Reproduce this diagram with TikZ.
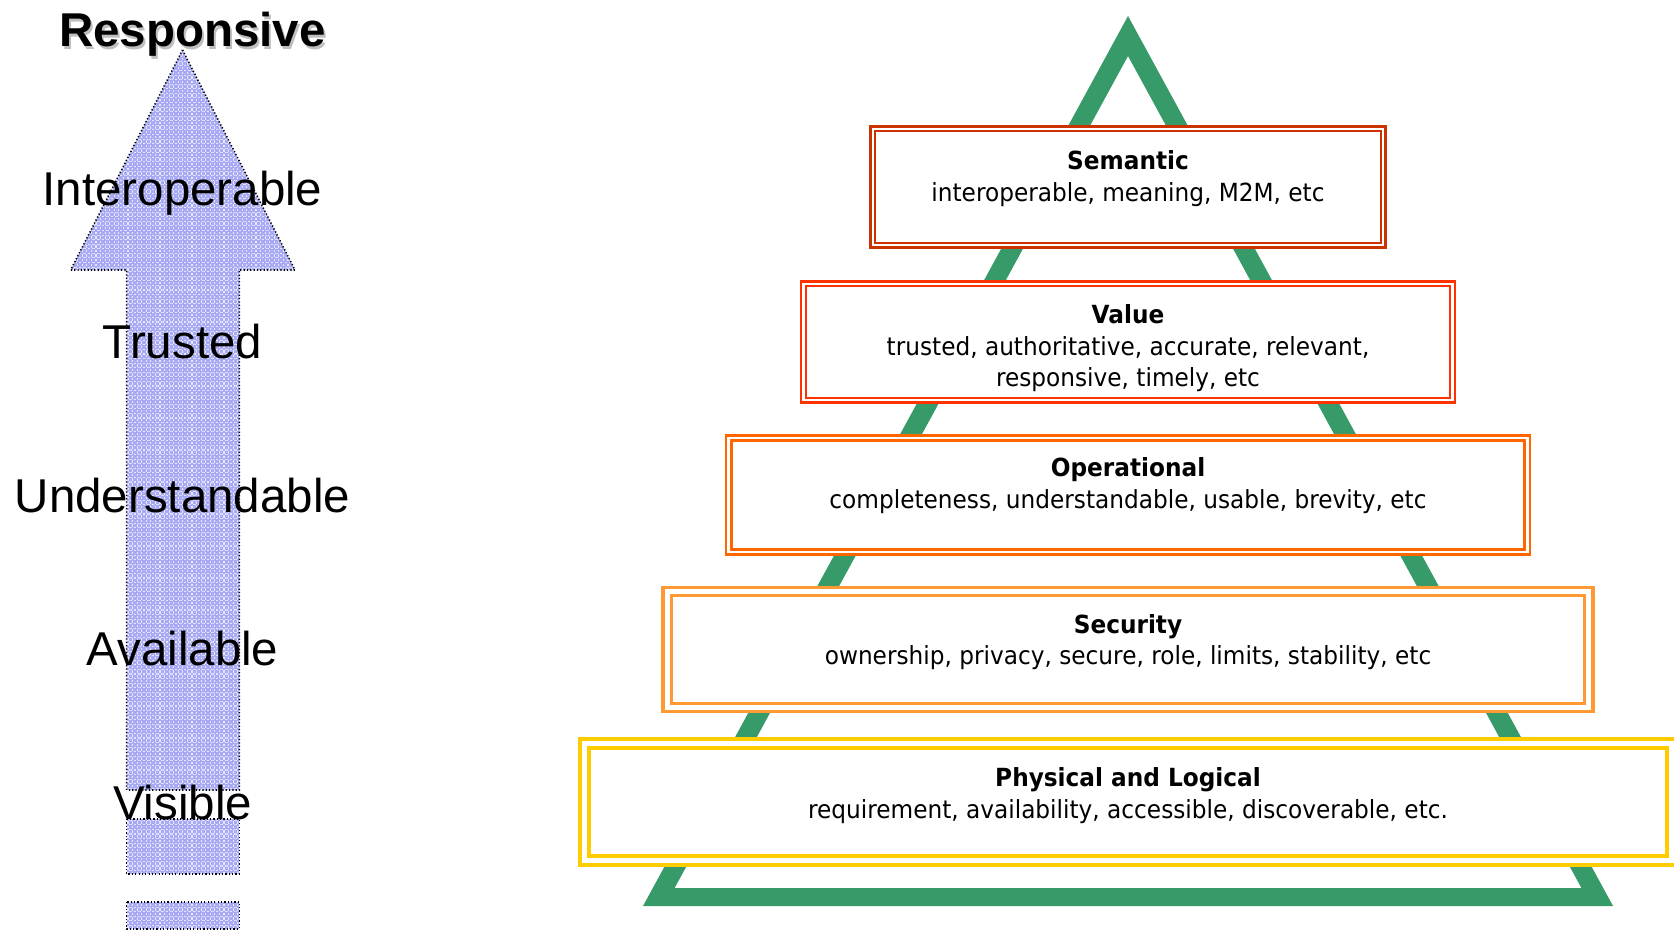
\documentclass[tikz,border=0pt]{standalone}
\usepackage{fontspec}
\setmainfont{Liberation Sans}
\newfontfamily\layerfont[FakeStretch=0.93]{DejaVu Sans}
\usepackage{tikz}
\usetikzlibrary{patterns.meta}

\definecolor{pyrgreen}{RGB}{54,155,104}
\definecolor{semcol}{RGB}{204,51,0}
\definecolor{valcol}{RGB}{255,51,0}
\definecolor{opcol}{RGB}{255,102,0}
\definecolor{seccol}{RGB}{255,153,51}
\definecolor{physcol}{RGB}{255,204,0}
\definecolor{arrowblue}{RGB}{168,170,244}

\tikzset{
    layer/.style={draw=#1, double=white, fill=white, rectangle, inner sep=0pt},
    layer text/.style={anchor=north, align=center, inner sep=0pt, font=\layerfont\fontsize{7.1}{9}\selectfont},
    quality/.style={anchor=base, inner sep=0pt, font=\fontsize{13.5}{16}\selectfont},
    arrowpart/.style={preaction={fill=arrowblue}, pattern={Hatch[angle=0, distance=1.3pt, line width=0.3pt]}, pattern color=white!70!arrowblue,
        draw=black, line width=0.45pt, dash pattern=on 0.35pt off 0.6pt},
}

\begin{document}
\begin{tikzpicture}[x=0.01cm, y=-0.01cm]
    \useasboundingbox (0,0) rectangle (1674,930);

    % broken arrow on the left
    \draw[arrowpart] (182.5,50) -- (295,270) -- (239.3,270) -- (239.3,790) -- (126.7,790) -- (126.7,270) -- (70.7,270) -- cycle;
    \draw[arrowpart] (126.7,819) rectangle (239.3,874);
    \draw[arrowpart] (126.7,902) rectangle (239.3,929);

    \node[quality, font=\fontsize{13.5}{16}\selectfont\bfseries, text=black!25] at (194.5,49) {Responsive};
    \node[quality, font=\fontsize{13.5}{16}\selectfont\bfseries] (responsive) at (192.5,46.7) {Responsive};
    \node[quality] (interoperable) at (182.5,205) {Interoperable};
    \node[quality] (trusted) at (182.5,358.5) {Trusted};
    \node[quality] (understandable) at (182.5,512) {Understandable};
    \node[quality] (available) at (182.5,665.5) {Available};
    \node[quality] (visible) at (182.5,819) {Visible};

    % pyramid frame
    \fill[pyrgreen, even odd rule] (1128,16) -- (643,906) -- (1613,906) -- cycle
        (1128,56) -- (674.6,888) -- (1581.4,888) -- cycle;

    \node[layer=semcol, line width=0.63pt, double distance=0.74pt, minimum width=5.10cm, minimum height=1.16cm] (semantic) at (1128,187) {};
    \node[layer=valcol, line width=0.63pt, double distance=0.74pt, minimum width=6.49cm, minimum height=1.16cm] (value) at (1128,342) {};
    \node[layer=opcol, line width=0.71pt, double distance=0.77pt, minimum width=7.98cm, minimum height=1.14cm] (operational) at (1128,495) {};
    \node[layer=seccol, line width=0.94pt, double distance=1.42pt, minimum width=9.21cm, minimum height=1.16cm] (security) at (1128,649.5) {};
    \node[layer=physcol, line width=1.14pt, double distance=1.42pt, minimum width=10.87cm, minimum height=1.16cm] (physical) at (1128,802) {};

    \node[layer text] (semantic text) at (1128,150) {\textbf{Semantic}\\interoperable, meaning, M2M, etc};
    \node[layer text] (value text) at (1128,304) {\textbf{Value}\\trusted, authoritative, accurate, relevant,\\responsive, timely, etc};
    \node[layer text] (operational text) at (1128,457) {\textbf{Operational}\\completeness, understandable, usable, brevity, etc};
    \node[layer text] (security text) at (1128,613.5) {\textbf{Security}\\ownership, privacy, secure, role, limits, stability, etc};
    \node[layer text] (physical text) at (1128,767) {\textbf{Physical and Logical}\\requirement, availability, accessible, discoverable, etc.};

\end{tikzpicture}
\end{document}
